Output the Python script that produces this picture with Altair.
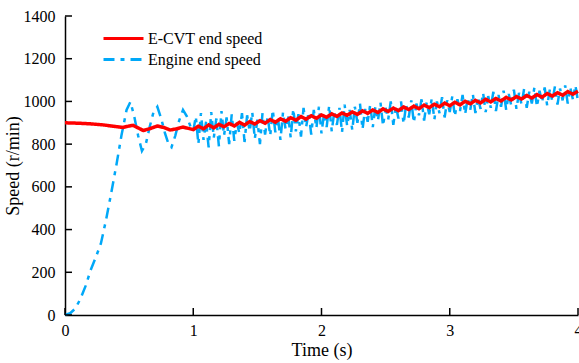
import altair as alt
import pandas as pd

# ---- data ----
SERIES = ["E-CVT end speed", "Engine end speed"]

# phase 1 (0-1 s)
red_t1 = [0.0, 0.1, 0.2, 0.3, 0.4, 0.45, 0.5, 0.53, 0.57, 0.61, 0.66, 0.72, 0.77, 0.82, 0.87, 0.92, 0.96]
red_v1 = [900, 898, 895, 890, 882, 878, 885, 888, 876, 864, 872, 885, 878, 866, 872, 880, 874]

blue_t1 = [0.0, 0.04, 0.08, 0.12, 0.16, 0.2, 0.24, 0.28, 0.32, 0.36, 0.4, 0.44, 0.48, 0.51, 0.54,
           0.57, 0.6, 0.63, 0.66, 0.69, 0.72, 0.75, 0.78, 0.81, 0.83, 0.86, 0.89, 0.92, 0.95, 0.98]
blue_v1 = [0, 8, 30, 75, 135, 210, 270, 335, 445, 570, 700, 840, 960, 998, 930,
           840, 768, 800, 880, 950, 975, 920, 850, 795, 785, 840, 910, 960, 930, 880]

# phase 2 (1-4 s): red sampled every 0.04 s, blue every 0.02 s
red_v2 = [868, 884, 872, 890, 876, 893, 881, 897, 885, 902,
          889, 906, 894, 910, 898, 915, 903, 919, 907, 924,
          912, 929, 917, 933, 921, 937, 926, 942, 930, 946,
          935, 951, 939, 956, 944, 960, 948, 965, 953, 969,
          957, 974, 962, 978, 966, 983, 971, 987, 975, 992,
          980, 996, 984, 1001, 989, 1005, 993, 1010, 998, 1014,
          1002, 1019, 1007, 1023, 1011, 1028, 1016, 1032, 1020, 1037,
          1025, 1041, 1029, 1046, 1034, 1048]

blue_v2 = [860, 930, 800, 945, 820, 905, 785, 950, 830, 920,
           790, 955, 840, 925, 800, 940, 815, 900, 850, 945,
           810, 935, 860, 950, 825, 915, 800, 945, 845, 930,
           840, 960, 855, 925, 820, 950, 870, 935, 830, 965,
           860, 940, 835, 970, 880, 950, 845, 960, 875, 975,
           850, 945, 880, 980, 860, 955, 890, 970, 855, 985,
           885, 960, 865, 975, 900, 990, 870, 965, 905, 985,
           880, 975, 910, 995, 885, 970, 915, 1000, 890, 980,
           920, 1000, 895, 985, 925, 1005, 900, 990, 935, 1010,
           910, 995, 940, 1015, 915, 1000, 945, 1020, 925, 1005,
           950, 1025, 930, 1010, 955, 1030, 940, 1015, 960, 1035,
           945, 1020, 965, 1040, 950, 1025, 970, 1045, 955, 1030,
           975, 1050, 960, 1035, 980, 1055, 965, 1040, 985, 1060,
           970, 1045, 990, 1065, 975, 1050, 995, 1065, 980, 1055,
           1000, 1070, 985, 1060, 1005, 1075, 990, 1065, 1010, 1075,
           1000]

x_ticks = [0, 1, 2, 3, 4]
y_ticks = [0, 200, 400, 600, 800, 1000, 1200, 1400]

# ---- tables ----
red_t2 = [round(1 + 0.04 * i, 2) for i in range(len(red_v2))]
blue_t2 = [round(1 + 0.02 * i, 2) for i in range(len(blue_v2))]

red_df = pd.DataFrame({"t": red_t1 + red_t2, "v": red_v1 + red_v2, "series": SERIES[0]})
blue_df = pd.DataFrame({"t": blue_t1 + blue_t2, "v": blue_v1 + blue_v2, "series": SERIES[1]})
xt_df = pd.DataFrame({"t": x_ticks})
yt_df = pd.DataFrame({"v": y_ticks})

FONT = "Liberation Serif"
W, H = 513, 299

xscale = alt.Scale(domain=[0, 4], nice=False, zero=False)
yscale = alt.Scale(domain=[0, 1400], nice=False)

def legend():
    return alt.Legend(title=None, orient="none", legendX=37, legendY=12,
                      symbolType="stroke", symbolSize=1600, labelFont=FONT,
                      labelFontSize=16, labelColor="black", labelOffset=3,
                      clipHeight=21, padding=0, rowPadding=0, symbolStrokeWidth=3)

color = alt.Color("series:N", scale=alt.Scale(domain=SERIES, range=["#FF0000", "#00A8F8"]),
                  legend=legend())
dash = alt.StrokeDash("series:N", scale=alt.Scale(domain=SERIES, range=[[1, 0], [11, 6, 4, 6]]),
                      legend=legend())

def xaxis():
    return alt.Axis(title="Time (s)", values=x_ticks, format="d", ticks=False,
                    labelPadding=7, titlePadding=3, grid=False, labelFlush=False,
                    labelFont=FONT, labelFontSize=16, labelColor="black",
                    titleFont=FONT, titleFontSize=18, titleColor="black", titleFontWeight="normal",
                    domainColor="black", domainWidth=1.5)

def yaxis():
    return alt.Axis(title="Speed (r/min)", values=y_ticks, format="d", ticks=False,
                    labelPadding=10, titlePadding=1, grid=False, labelFlush=False,
                    labelFont=FONT, labelFontSize=16, labelColor="black",
                    titleFont=FONT, titleFontSize=18, titleColor="black", titleFontWeight="normal",
                    domainColor="black", domainWidth=1.5)

blue = alt.Chart(blue_df).mark_line(strokeWidth=2.5).encode(
    x=alt.X("t:Q", scale=xscale, axis=xaxis()),
    y=alt.Y("v:Q", scale=yscale, axis=yaxis()),
    color=color, strokeDash=dash)
red = alt.Chart(red_df).mark_line(strokeWidth=3.5).encode(
    x=alt.X("t:Q", scale=xscale, axis=xaxis()),
    y=alt.Y("v:Q", scale=yscale, axis=yaxis()),
    color=color, strokeDash=dash)

# inward tick marks
xt = alt.Chart(xt_df).mark_rule(color="black", strokeWidth=1.5).encode(
    x=alt.X("t:Q", scale=xscale, axis=xaxis()), y=alt.value(H), y2=alt.value(H - 7))
yt = alt.Chart(yt_df).mark_rule(color="black", strokeWidth=1.5).encode(
    y=alt.Y("v:Q", scale=yscale, axis=yaxis()), x=alt.value(0), x2=alt.value(7))

chart = alt.layer(blue, red, xt, yt).properties(
    width=W, height=H,
    autosize=alt.AutoSizeParams(type="none"),
    padding={"left": 65, "top": 16, "right": 1, "bottom": 48},
).configure_view(stroke=None).configure_axis(labelFont=FONT, titleFont=FONT)

chart.save("out.html", embed_options={"renderer": "svg", "actions": False})
